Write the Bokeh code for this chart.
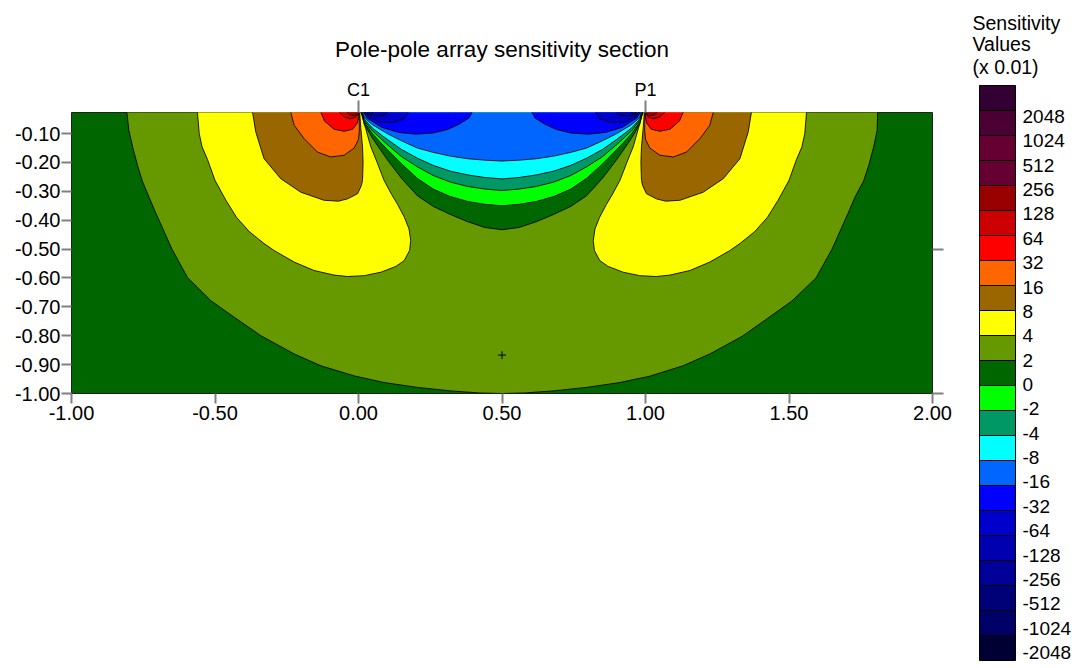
from bokeh.plotting import figure
from bokeh.models import Range1d, LinearAxis, FixedTicker, PrintfTickFormatter
from bokeh.layouts import row
from bokeh.embed import file_html
from bokeh.resources import INLINE
from bokeh.core.properties import value

FONT = "Liberation Sans"

# ---------------- data ----------------
title_text = "Pole-pole array sensitivity section"
x_ticks = [-1.0, -0.5, 0.0, 0.5, 1.0, 1.5, 2.0]
y_ticks = [-0.1, -0.2, -0.3, -0.4, -0.5, -0.6, -0.7, -0.8, -0.9, -1.0]
right_ticks = [-0.5, -1.0]
electrode_x = [0.0, 1.0]
electrode_names = ["C1", "P1"]
centre_mark_x = [0.5]
centre_mark_y = [-0.867]

legend_title = ["Sensitivity", "Values", "(x 0.01)"]
legend_labels = ["2048", "1024", "512", "256", "128", "64", "32", "16", "8", "4", "2", "0",
                 "-2", "-4", "-8", "-16", "-32", "-64", "-128", "-256", "-512", "-1024", "-2048"]
legend_colors = ["#330033", "#4a0033", "#660033", "#660033", "#990000", "#cc0000", "#ff0000",
                 "#ff6600", "#996600", "#ffff00", "#669900", "#006600", "#00ff00", "#009966",
                 "#00ffff", "#0066ff", "#0000ff", "#0000cc", "#0000b0", "#000099", "#000077",
                 "#000066", "#000033"]

# contour lines (x position, depth) read from the section
c_pos2_outer_x = [-0.808, -0.807, -0.800, -0.787, -0.770, -0.753, -0.730, -0.705, -0.650, -0.596,
                  -0.515, -0.433, -0.340, -0.224, -0.131, -0.015, 0.089, 0.206, 0.322, 0.420,
                  0.500, 0.580, 0.678, 0.794, 0.911, 1.015, 1.131, 1.224, 1.337, 1.425, 1.510,
                  1.594, 1.650, 1.705, 1.730, 1.760, 1.778, 1.795, 1.807, 1.809, 1.810]
c_pos2_outer_d = [0.0, 0.027, 0.090, 0.146, 0.210, 0.265, 0.320, 0.378, 0.500, 0.598,
                  0.678, 0.736, 0.800, 0.863, 0.904, 0.939, 0.962, 0.979, 0.991, 0.998,
                  1.000, 0.998, 0.991, 0.979, 0.962, 0.940, 0.904, 0.863, 0.802, 0.740, 0.680,
                  0.600, 0.500, 0.378, 0.320, 0.264, 0.210, 0.146, 0.090, 0.027, 0.0]

c_pos4_left_x = [-0.562, -0.561, -0.555, -0.545, -0.526, -0.500, -0.462, -0.425, -0.380, -0.330,
                 -0.294, -0.224, -0.155, -0.085, -0.038, 0.020, 0.078, 0.130, 0.159, 0.178, 0.182,
                 0.176, 0.160, 0.136, 0.115, 0.089, 0.065, 0.043, 0.025, 0.014, 0.008, 0.005]
c_pos4_left_d = [0.0, 0.027, 0.100, 0.146, 0.190, 0.262, 0.331, 0.390, 0.440, 0.480,
                 0.505, 0.545, 0.574, 0.590, 0.595, 0.592, 0.580, 0.560, 0.540, 0.505, 0.470,
                 0.430, 0.390, 0.345, 0.310, 0.262, 0.200, 0.146, 0.083, 0.042, 0.027, 0.0]
c_pos4_right_x = [1.562, 1.561, 1.555, 1.545, 1.526, 1.500, 1.462, 1.425, 1.380, 1.330,
                  1.294, 1.224, 1.155, 1.085, 1.038, 0.980, 0.922, 0.870, 0.841, 0.822, 0.818,
                  0.824, 0.840, 0.864, 0.885, 0.911, 0.935, 0.957, 0.975, 0.986, 0.992, 0.995]
c_pos4_right_d = c_pos4_left_d

c_pos8_left_x = [-0.370, -0.369, -0.358, -0.329, -0.271, -0.201, -0.120, -0.070, -0.038, -0.003,
                 0.010, 0.014, 0.016, 0.014, 0.008, 0.004, 0.003]
c_pos8_left_d = [0.0, 0.027, 0.094, 0.187, 0.256, 0.303, 0.331, 0.334, 0.326, 0.308,
                 0.280, 0.262, 0.200, 0.146, 0.080, 0.027, 0.0]
c_pos8_right_x = [1.370, 1.369, 1.358, 1.329, 1.271, 1.201, 1.120, 1.070, 1.038, 1.003,
                  0.990, 0.986, 0.984, 0.986, 0.992, 0.996, 0.997]
c_pos8_right_d = c_pos8_left_d

c_pos16_left_x = [-0.237, -0.236, -0.224, -0.190, -0.143, -0.097, -0.050, -0.015, 0.000, 0.003, 0.002, 0.002]
c_pos16_left_d = [0.0, 0.027, 0.071, 0.117, 0.164, 0.181, 0.175, 0.150, 0.120, 0.088, 0.027, 0.0]
c_pos16_right_x = [1.237, 1.236, 1.224, 1.190, 1.143, 1.097, 1.050, 1.015, 1.000, 0.997, 0.998, 0.998]
c_pos16_right_d = c_pos16_left_d

c_pos32_left_x = [-0.132, -0.131, -0.118, -0.085, -0.050, -0.020, -0.005, 0.001, 0.001]
c_pos32_left_d = [0.0, 0.027, 0.057, 0.085, 0.092, 0.085, 0.065, 0.043, 0.0]
c_pos32_right_x = [1.132, 1.131, 1.118, 1.085, 1.050, 1.020, 1.005, 0.999, 0.999]
c_pos32_right_d = c_pos32_left_d

c_pos64_left_x = [-0.068, -0.066, -0.050, -0.027, -0.008, 0.000, 0.000]
c_pos64_left_d = [0.0, 0.027, 0.043, 0.049, 0.042, 0.030, 0.0]
c_pos64_right_x = [1.068, 1.066, 1.050, 1.027, 1.008, 1.000, 1.000]
c_pos64_right_d = c_pos64_left_d

c_pos128_left_x = [-0.042, -0.040, -0.028, -0.012, -0.003, 0.000]
c_pos128_left_d = [0.0, 0.027, 0.036, 0.038, 0.032, 0.0]
c_pos128_right_x = [1.042, 1.040, 1.028, 1.012, 1.003, 1.000]
c_pos128_right_d = c_pos128_left_d

# central band between C1 and P1
c_mid_x = [0.004, 0.020, 0.050, 0.100, 0.150, 0.205, 0.260, 0.320, 0.380, 0.440, 0.500,
           0.560, 0.620, 0.680, 0.740, 0.795, 0.850, 0.900, 0.950, 0.980, 0.996]
c_pos2_mid_d = [0.0, 0.068, 0.118, 0.190, 0.255, 0.315, 0.352, 0.380, 0.405, 0.425, 0.433,
                0.425, 0.405, 0.380, 0.352, 0.315, 0.255, 0.190, 0.118, 0.068, 0.0]
c_zero_mid_d = [0.0, 0.060, 0.102, 0.155, 0.205, 0.255, 0.292, 0.318, 0.335, 0.345, 0.350,
                0.345, 0.335, 0.318, 0.292, 0.255, 0.205, 0.155, 0.102, 0.060, 0.0]
c_neg2_mid_d = [0.0, 0.055, 0.092, 0.138, 0.180, 0.215, 0.245, 0.268, 0.283, 0.292, 0.297,
                0.292, 0.283, 0.268, 0.245, 0.215, 0.180, 0.138, 0.092, 0.055, 0.0]
c_neg4_mid_d = [0.0, 0.050, 0.082, 0.120, 0.155, 0.185, 0.210, 0.230, 0.243, 0.252, 0.257,
                0.252, 0.243, 0.230, 0.210, 0.185, 0.155, 0.120, 0.082, 0.050, 0.0]
c_neg8_mid_d = [0.0, 0.045, 0.070, 0.100, 0.125, 0.150, 0.165, 0.178, 0.187, 0.192, 0.195,
                0.192, 0.187, 0.178, 0.165, 0.150, 0.125, 0.100, 0.070, 0.045, 0.0]

c_neg16_left_x = [0.003, 0.030, 0.080, 0.140, 0.200, 0.260, 0.310, 0.350, 0.385, 0.410]
c_neg16_left_d = [0.0, 0.046, 0.078, 0.096, 0.102, 0.098, 0.086, 0.068, 0.046, 0.0]
c_neg16_right_x = [0.997, 0.970, 0.920, 0.860, 0.800, 0.740, 0.690, 0.650, 0.615, 0.590]
c_neg16_right_d = c_neg16_left_d

c_neg32_left_x = [0.002, 0.030, 0.070, 0.120, 0.160, 0.190]
c_neg32_left_d = [0.0, 0.038, 0.060, 0.062, 0.048, 0.0]
c_neg32_right_x = [0.998, 0.970, 0.930, 0.880, 0.840, 0.810]
c_neg32_right_d = c_neg32_left_d

c_neg64_left_x = [0.002, 0.030, 0.065, 0.095, 0.115]
c_neg64_left_d = [0.0, 0.033, 0.040, 0.034, 0.0]
c_neg64_right_x = [0.998, 0.970, 0.935, 0.905, 0.885]
c_neg64_right_d = c_neg64_left_d

c_neg128_left_x = [0.001, 0.020, 0.045, 0.065]
c_neg128_left_d = [0.0, 0.031, 0.033, 0.0]
c_neg128_right_x = [0.999, 0.980, 0.955, 0.935]
c_neg128_right_d = c_neg128_left_d

# regions drawn from the outside in: (x, depth, legend row giving the fill)
regions = [
    (c_pos2_outer_x, c_pos2_outer_d, 10),
    (c_pos4_left_x, c_pos4_left_d, 9), (c_pos4_right_x, c_pos4_right_d, 9),
    (c_pos8_left_x, c_pos8_left_d, 8), (c_pos8_right_x, c_pos8_right_d, 8),
    (c_pos16_left_x, c_pos16_left_d, 7), (c_pos16_right_x, c_pos16_right_d, 7),
    (c_pos32_left_x, c_pos32_left_d, 6), (c_pos32_right_x, c_pos32_right_d, 6),
    (c_pos64_left_x, c_pos64_left_d, 5), (c_pos64_right_x, c_pos64_right_d, 5),
    (c_pos128_left_x, c_pos128_left_d, 4), (c_pos128_right_x, c_pos128_right_d, 4),
    (c_mid_x, c_pos2_mid_d, 11),
    (c_mid_x, c_zero_mid_d, 12),
    (c_mid_x, c_neg2_mid_d, 13),
    (c_mid_x, c_neg4_mid_d, 14),
    (c_mid_x, c_neg8_mid_d, 15),
    (c_neg16_left_x, c_neg16_left_d, 16), (c_neg16_right_x, c_neg16_right_d, 16),
    (c_neg32_left_x, c_neg32_left_d, 17), (c_neg32_right_x, c_neg32_right_d, 17),
    (c_neg64_left_x, c_neg64_left_d, 18), (c_neg64_right_x, c_neg64_right_d, 18),
    (c_neg128_left_x, c_neg128_left_d, 19), (c_neg128_right_x, c_neg128_right_d, 19),
]
background_row = 11

# ---------------- layout (pixels) ----------------
H = 664
W_MAIN, W_LEG = 960, 116
FRAME_L, FRAME_R, FRAME_T, FRAME_B = 71, 932, 112, 393
X0, X1 = -1.0, 2.0
Y_TOP, Y_BOT = -0.027, -1.0


def no_frame_align(fig):
    if "frame_align" in fig.properties():
        fig.frame_align = False


p = figure(width=W_MAIN, height=H, x_range=Range1d(X0, X1), y_range=Range1d(Y_BOT, Y_TOP),
           output_backend="svg", toolbar_location=None,
           min_border_left=FRAME_L, min_border_right=W_MAIN - FRAME_R,
           min_border_top=FRAME_T, min_border_bottom=H - FRAME_B)
no_frame_align(p)
p.background_fill_color = legend_colors[background_row]
p.border_fill_color = "white"
p.outline_line_color = "#202020"
p.outline_line_width = 1
p.xgrid.visible = False
p.ygrid.visible = False

p.title.text = title_text
p.title.align = "center"
p.title.offset = 5
p.title.text_font = FONT
p.title.text_font_size = "22.5px"
p.title.text_font_style = "normal"
p.title.text_color = "black"
p.title.standoff = 30

for xs, ds, idx in regions:
    p.patch(xs, [-d for d in ds], fill_color=legend_colors[idx], line_color="black",
            line_width=1, line_alpha=0.85)

p.scatter(centre_mark_x, centre_mark_y, marker="cross", size=8, line_color="black", line_width=1)

fmt = PrintfTickFormatter(format="%.2f")
for ax in (p.xaxis[0], p.yaxis[0]):
    ax.formatter = fmt
    ax.major_tick_in = 0
    ax.major_tick_out = 10
    ax.minor_tick_line_color = None
    ax.major_tick_line_color = "#808080"
    ax.major_tick_line_width = 2
    ax.axis_line_color = None
    ax.major_label_text_font = FONT
    ax.major_label_text_font_size = "20px"
    ax.major_label_text_color = "black"
p.xaxis[0].ticker = FixedTicker(ticks=x_ticks)
p.yaxis[0].ticker = FixedTicker(ticks=y_ticks)
p.xaxis[0].major_label_standoff = 2
p.yaxis[0].major_label_standoff = 1

top_axis = LinearAxis(ticker=FixedTicker(ticks=electrode_x),
                      major_label_overrides=dict(zip(electrode_x, electrode_names)))
top_axis.major_tick_in = 0
top_axis.major_tick_out = 12
top_axis.minor_tick_line_color = None
top_axis.major_tick_line_color = "#808080"
top_axis.major_tick_line_width = 2
top_axis.axis_line_color = None
top_axis.major_label_standoff = 1
top_axis.major_label_text_font = FONT
top_axis.major_label_text_font_size = "18px"
top_axis.major_label_text_color = "black"
p.add_layout(top_axis, "above")

right_axis = LinearAxis(ticker=FixedTicker(ticks=right_ticks),
                        major_label_overrides={t: "" for t in right_ticks})
right_axis.major_tick_in = 0
right_axis.major_tick_out = 11
right_axis.minor_tick_line_color = None
right_axis.major_tick_line_color = "#808080"
right_axis.major_tick_line_width = 2
right_axis.axis_line_color = None
right_axis.major_label_standoff = 0
p.add_layout(right_axis, "right")

# ---------------- colour legend (own panel, pixel coordinates, y downwards) ----------------
leg = figure(width=W_LEG, height=H, x_range=Range1d(0, W_LEG), y_range=Range1d(H, 0),
             output_backend="svg", toolbar_location=None, min_border=0,
             min_border_left=0, min_border_right=0, min_border_top=0, min_border_bottom=0)
no_frame_align(leg)
leg.axis.visible = False
leg.xgrid.visible = False
leg.ygrid.visible = False
leg.outline_line_color = None
leg.background_fill_color = "white"
leg.border_fill_color = "white"

n = len(legend_labels)
BOX_L, BOX_R, BOX_T, BOX_H = 19, 55, 85, 25
LAB_X, LAB_Y0, LAB_Y1 = 62, 116, 652
tops = [BOX_T + i * BOX_H for i in range(n)]
bottoms = [t + BOX_H for t in tops]
leg.quad(left=BOX_L, right=BOX_R, top=tops, bottom=bottoms, fill_color=legend_colors,
         line_color="black", line_width=1)
leg.text(x=[LAB_X] * n, y=[LAB_Y0 + i * (LAB_Y1 - LAB_Y0) / (n - 1) for i in range(n)],
         text=legend_labels, text_font=value(FONT), text_font_size="19px",
         text_baseline="middle", text_align="left", text_color="black")
leg.text(x=[12] * len(legend_title), y=[22, 43.5, 66], text=legend_title,
         text_font=value(FONT), text_font_size="19.5px", text_baseline="middle",
         text_align="left", text_color="black")

layout = row(p, leg)
open("out.html", "w").write(file_html(layout, INLINE))
